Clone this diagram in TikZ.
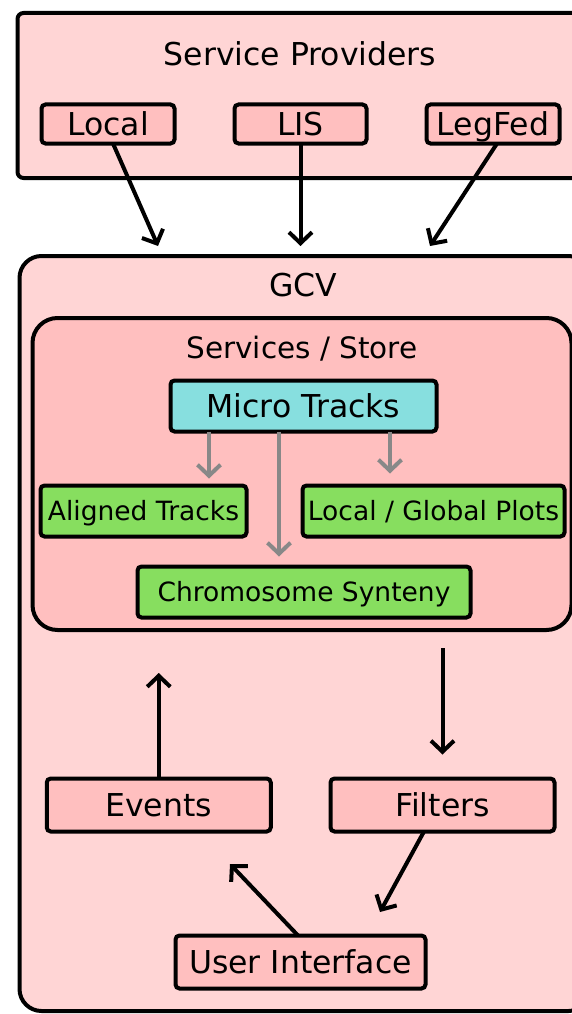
\documentclass[tikz,border=0pt]{standalone}
\usepackage{fontspec}
\setmainfont{DejaVu Sans}
\usetikzlibrary{arrows.meta}
\definecolor{outerpink}{HTML}{FFD5D5}
\definecolor{boxpink}{HTML}{FFBFBF}
\definecolor{microcyan}{HTML}{87DFDF}
\definecolor{viewgreen}{HTML}{87DE5F}
\definecolor{linkgray}{HTML}{888888}
\begin{document}
\begin{tikzpicture}[x=1pt,y=-1pt,
  container/.style={draw, line width=4pt, inner sep=0pt, outer sep=0pt},
  title/.style={font=\fontsize{31.5}{38}\selectfont, inner sep=0pt, text height=23pt, text depth=0pt},
  part/.style={draw, line width=4pt, rounded corners=4pt, inner sep=0pt, outer sep=0pt,
    text height=23pt, text depth=0pt, font=\fontsize{31.5}{38}\selectfont},
  pinkbox/.style={part, fill=boxpink},
  viewbox/.style={part, fill=viewgreen, text height=19.5pt, font=\fontsize{26.5}{32}\selectfont},
  arr/.style={line width=4pt, -{Straight Barb[length=11pt,width=23pt]}},
  grayarr/.style={arr, draw=linkgray}
]
\useasboundingbox (0,0) rectangle (572,1014);
\clip (0,0) rectangle (572,1014);

% service providers
\node[container, fill=outerpink, rounded corners=6pt, minimum width=563, minimum height=165]
  (providers) at (299,95.5) {};
\node[title] (ptitle) at (300,54) {Service Providers};
\node[pinkbox, minimum width=133, minimum height=39] (local)  at (108,124)   {Local};
\node[pinkbox, minimum width=132, minimum height=39] (lis)    at (300.5,124) {LIS};
\node[pinkbox, minimum width=133, minimum height=39] (legfed) at (493,124)   {LegFed};

% GCV application
\node[container, fill=outerpink, rounded corners=22pt, minimum width=571, minimum height=755]
  (gcv) at (305,633.5) {};
\node[title] (gtitle) at (303,285) {GCV};

\node[container, fill=boxpink, rounded corners=25pt, minimum width=539, minimum height=312]
  (store) at (302,474) {};
\node[title, font=\fontsize{29.5}{36}\selectfont, text height=21.5pt] (stitle) at (302,348) {Services / Store};

\node[part, fill=microcyan, minimum width=266, minimum height=51] (micro) at (303.5,406) {Micro Tracks};
\node[viewbox, minimum width=206, minimum height=51] (aligned) at (143.5,511) {Aligned Tracks};
\node[viewbox, minimum width=262, minimum height=51] (plots)   at (433.5,511) {Local / Global Plots};
\node[viewbox, minimum width=333, minimum height=51] (chrom)   at (304,592)   {Chromosome Synteny};

\node[pinkbox, minimum width=224, minimum height=53] (events)  at (158.75,805) {Events};
\node[pinkbox, minimum width=224, minimum height=53] (filters) at (442.5,805)  {Filters};
\node[pinkbox, minimum width=250, minimum height=53] (ui)      at (300.5,962)  {User Interface};

% arrow targets on the GCV frame
\coordinate (inL) at (158,246);
\coordinate (inM) at (300.5,246);
\coordinate (inR) at (430,246);
\coordinate (toEv) at (230,864);
\coordinate (toUi) at (380,912);

\draw[arr] ([xshift=5pt]local.south) -- (inL);
\draw[arr] (lis.south) -- (inM);
\draw[arr] ([xshift=4pt]legfed.south) -- (inR);

% store internals
\draw[grayarr] ([xshift=-94.5pt]micro.south) -- ([xshift=65.5pt,yshift=7pt]aligned.north);
\draw[grayarr] ([xshift=-24.5pt]micro.south) -- ([xshift=-25pt,yshift=10pt]chrom.north);
\draw[grayarr] ([xshift=86.5pt]micro.south) -- ([xshift=-43.5pt,yshift=12pt]plots.north);

% data flow loop
\draw[arr] ([yshift=-18pt]store.south -| filters.north) -- ([yshift=24pt]filters.north);
\draw[arr] (events.north) -- ([yshift=-43pt]store.south -| events.north);
\draw[arr] ([xshift=-18.5pt]filters.south) -- (toUi);
\draw[arr] ([xshift=-2.5pt]ui.north) -- (toEv);
\end{tikzpicture}
\end{document}
